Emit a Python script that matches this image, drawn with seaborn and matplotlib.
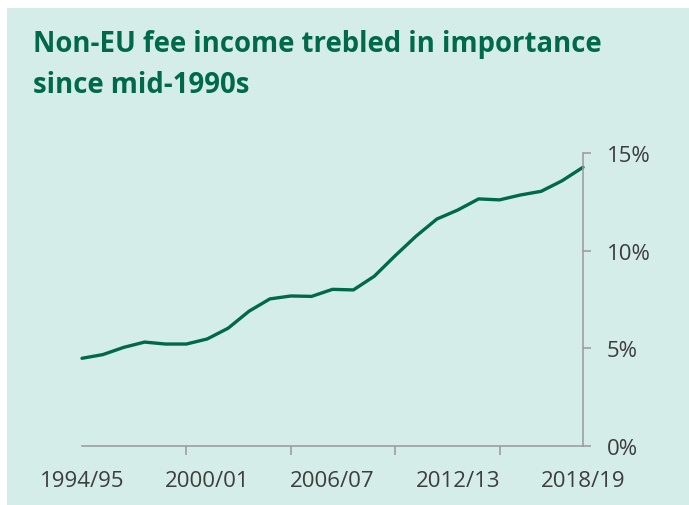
import pandas as pd
import matplotlib.pyplot as plt
import seaborn as sns
from matplotlib.patches import Rectangle
from matplotlib.ticker import FixedLocator, FixedFormatter, PercentFormatter

# Non-EU fee income as share of total income, by academic year
years = ["1994/95", "1995/96", "1996/97", "1997/98", "1998/99", "1999/00",
         "2000/01", "2001/02", "2002/03", "2003/04", "2004/05", "2005/06",
         "2006/07", "2007/08", "2008/09", "2009/10", "2010/11", "2011/12",
         "2012/13", "2013/14", "2014/15", "2015/16", "2016/17", "2017/18",
         "2018/19"]
share = [4.49, 4.68, 5.05, 5.32, 5.22, 5.22, 5.48, 6.03, 6.90, 7.53, 7.68, 7.66,
         8.02, 7.99, 8.69, 9.74, 10.74, 11.62, 12.08, 12.65, 12.60, 12.85, 13.04,
         13.58, 14.27]
label_years = ["1994/95", "2000/01", "2006/07", "2012/13", "2018/19"]
marked_years = ["1994/95", "1999/00", "2004/05", "2009/10", "2014/15"]
y_ticks = [0, 5, 10, 15]

green = "#00694a"
bg = "#d5ede8"
grey_text = "#3d3d3d"
grey_axis = "#999999"

df = pd.DataFrame({"year": years, "share": share})
df["pos"] = range(len(df))

sns.set_theme(style="white")
plt.rcParams["font.family"] = ["Open Sans", "DejaVu Sans"]

fig = plt.figure(figsize=(6.89, 5.06), dpi=100)
fig.patch.set_facecolor("white")
fig.patches.append(Rectangle((7 / 689, 0), 1, 1 - 9 / 506, transform=fig.transFigure,
                             facecolor=bg, edgecolor="none", zorder=-5))

ax = fig.add_axes([82 / 689, 1 - 447 / 506, (583 - 82) / 689, (447 - 154) / 506])
ax.set_facecolor("none")
ax.set_zorder(2)

sns.lineplot(data=df, x="pos", y="share", color=green, linewidth=2.4, ax=ax)
ax.lines[0].set_clip_on(False)

ax.set_xlim(0, len(years) - 1)
ax.set_ylim(0, 15)

# right-hand y axis
ax.yaxis.tick_right()
ax.set_yticks(y_ticks)
ax.yaxis.set_major_formatter(PercentFormatter(decimals=0))
ax.tick_params(axis="y", which="major", direction="out", length=6, width=1.1,
               color=grey_axis, pad=11, labelsize=16, labelcolor=grey_text)

# x labels every six years, tick marks every five years
ax.xaxis.set_major_locator(FixedLocator([years.index(y) for y in label_years]))
ax.xaxis.set_major_formatter(FixedFormatter(label_years))
ax.xaxis.set_minor_locator(FixedLocator([years.index(y) for y in marked_years]))
ax.tick_params(axis="x", which="major", length=0, pad=17, labelsize=16,
               labelcolor=grey_text)
ax.tick_params(axis="x", which="minor", bottom=True, direction="out", length=6.5,
               width=1.1, color=grey_axis)

for side in ["top", "left"]:
    ax.spines[side].set_visible(False)
for side in ["right", "bottom"]:
    ax.spines[side].set_color(grey_axis)
    ax.spines[side].set_linewidth(1.1)

ax.set_xlabel("")
ax.set_ylabel("")

fig.text(33 / 689, 1 - 30 / 506, "Non-EU fee income trebled in importance\nsince mid-1990s",
         ha="left", va="top", fontsize=19.8, fontweight="bold", color=green,
         linespacing=1.55)

fig.savefig("out.png", dpi=100, facecolor=fig.get_facecolor())
